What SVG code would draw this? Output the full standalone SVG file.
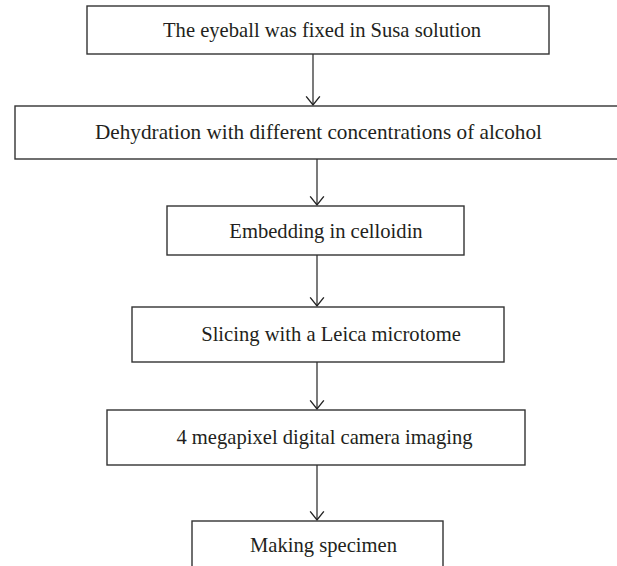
<svg xmlns="http://www.w3.org/2000/svg" width="617" height="566" viewBox="0 0 617 566">
<style>
.box{fill:#fff;stroke:#333;stroke-width:1.4}
.lbl{font-family:"Liberation Serif","Times New Roman",serif;font-size:20.6px;fill:#231f20;text-anchor:middle}
.con{fill:none;stroke:#222;stroke-width:1.2}
</style>
<defs>
<marker id="ah" markerUnits="userSpaceOnUse" markerWidth="12" markerHeight="16" refX="8" refY="7" orient="auto" viewBox="0 0 10 14" overflow="visible">
<path d="M0.5,1 L8,7 L0.5,13" fill="none" stroke="#222" stroke-width="1.2"/>
</marker>
</defs>
<rect width="617" height="566" fill="#fff"/>
<g id="connectors">
<line class="con" x1="313" y1="54" x2="313" y2="105" marker-end="url(#ah)"/>
<line class="con" x1="317" y1="159" x2="317" y2="205" marker-end="url(#ah)"/>
<line class="con" x1="317" y1="255" x2="317" y2="306" marker-end="url(#ah)"/>
<line class="con" x1="317" y1="362" x2="317" y2="409" marker-end="url(#ah)"/>
<line class="con" x1="317" y1="465" x2="317" y2="520" marker-end="url(#ah)"/>
</g>
<g id="n1">
<rect class="box" x="87" y="6" width="462" height="48"/>
<text class="lbl" x="322" y="37">The eyeball was fixed in Susa solution</text>
</g>
<g id="n2">
<rect class="box" x="15" y="106" width="610" height="53"/>
<text class="lbl" x="318.5" y="139" textLength="447" lengthAdjust="spacingAndGlyphs">Dehydration with different concentrations of alcohol</text>
</g>
<g id="n3">
<rect class="box" x="167" y="206" width="297" height="49"/>
<text class="lbl" x="326" y="238">Embedding in celloidin</text>
</g>
<g id="n4">
<rect class="box" x="132" y="307" width="372" height="55"/>
<text class="lbl" x="331" y="341">Slicing with a Leica microtome</text>
</g>
<g id="n5">
<rect class="box" x="107" y="410" width="418" height="55"/>
<text class="lbl" x="324.5" y="444">4 megapixel digital camera imaging</text>
</g>
<g id="n6">
<rect class="box" x="192" y="521" width="251" height="60"/>
<text class="lbl" x="323.5" y="552">Making specimen</text>
</g>
</svg>
